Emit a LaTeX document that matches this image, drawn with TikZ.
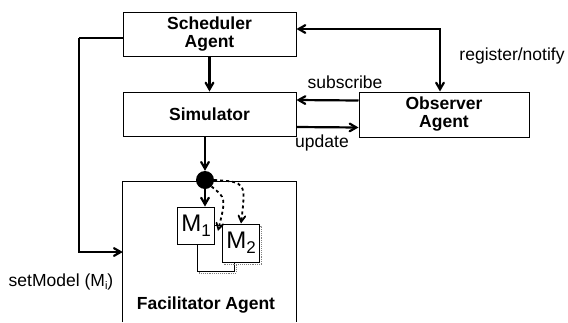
\documentclass[tikz,border=0pt]{standalone}
\usepackage{fontspec}
\setmainfont{Liberation Sans}
\usetikzlibrary{arrows,positioning,shadows}

\begin{document}
\begin{tikzpicture}[x = 1pt, y = -1pt, >=angle 60]
\tikzstyle{AgentStyle}=[shape = rectangle,
                        draw, line width = 1pt,
                        minimum width = 173pt,
                        inner sep = 1pt,
                        align = center,
                        font = \bfseries\fontsize{17.5}{18}\selectfont]
\tikzstyle{ModelStyle}=[shape = rectangle, draw, fill = white,
                        line width = 0.9pt,
                        minimum width = 36pt, minimum height = 37pt,
                        font = \fontsize{24}{24}\selectfont]
\tikzstyle{ShadowStyle}=[general shadow = {shadow xshift = 2pt, shadow yshift = -2pt,
                         fill = none, draw = gray, densely dotted}]
\tikzstyle{LinkStyle}=[->, line width = 2.2pt]
\tikzstyle{TagStyle}=[font = \fontsize{17.5}{18}\selectfont, inner sep = 0pt]
\useasboundingbox (0,0) rectangle (568,322);
% agents
\node[AgentStyle, minimum height = 44pt] (sched) at (209.5,34) {Scheduler\\Agent};
\node[AgentStyle, minimum height = 44pt] (sim) at (209.5,114) {Simulator};
\node[AgentStyle, minimum width = 170pt, minimum height = 45pt] (obs) at (444,114.5) {Observer\\Agent};
\node[minimum width = 173pt, minimum height = 140pt, inner sep = 0pt] (fac) at (209.5,252) {};
\draw[line width = 1pt] (fac.south west) -- (fac.north west) -- (fac.north east) -- (fac.south east);
\node[font = \bfseries\fontsize{17.5}{18}\selectfont, inner sep = 0pt] (faclbl) at (206,305) {Facilitator Agent};
% models
\node[ModelStyle, ShadowStyle, minimum width = 37pt, minimum height = 46pt] (mback) at (215.5,248) {};
\node[ModelStyle] (m1) at (196,225.5) {M\raisebox{-5pt}{\fontsize{17}{17}\selectfont 1}};
\node[ModelStyle, ShadowStyle, minimum height = 38pt] (m2) at (241,243) {M\raisebox{-5pt}{\fontsize{17}{17}\selectfont 2}};
\node[circle, fill, inner sep = 0pt, minimum size = 18pt] (dot) at (205,180) {};
% links
\draw[LinkStyle] (sched) -- (sim);
\draw[LinkStyle] (sim.south -| dot) -- (dot);
\draw[LinkStyle] (dot) -- (dot |- m1.north);
\coordinate (gap) at (218,231);
\draw[LinkStyle, line width = 1.8pt, dashed] (dot.south east) .. controls (226,198) .. (gap);
\draw[LinkStyle, line width = 1.8pt, dashed] (dot.east) .. controls (246,182) .. (m2.north);
\draw[<->, line width = 2.2pt] ([yshift = 5pt]sched.east) -| ([xshift = -4pt]obs.north);
\draw[LinkStyle] ([yshift = 14pt]obs.west) -- ([yshift = 14pt]sim.east);
\draw[LinkStyle] ([yshift = -13pt]sim.east) -- ([yshift = -13pt]obs.west);
\coordinate (bend) at (79,38);
\draw[line width = 1.3pt] ([yshift = -4pt]sched.west) -- (bend);
\draw[LinkStyle] (bend) |- (fac.west);
% labels
\node[TagStyle] (reg) at (512,56) {register/notify};
\node[TagStyle] (sub) at (345,82) {subscribe};
\node[TagStyle] (upd) at (322,143) {update};
\node[TagStyle] (setm) at (61,282) {setModel (M\raisebox{-3pt}{\fontsize{11}{11}\selectfont i})};
\end{tikzpicture}
\end{document}
